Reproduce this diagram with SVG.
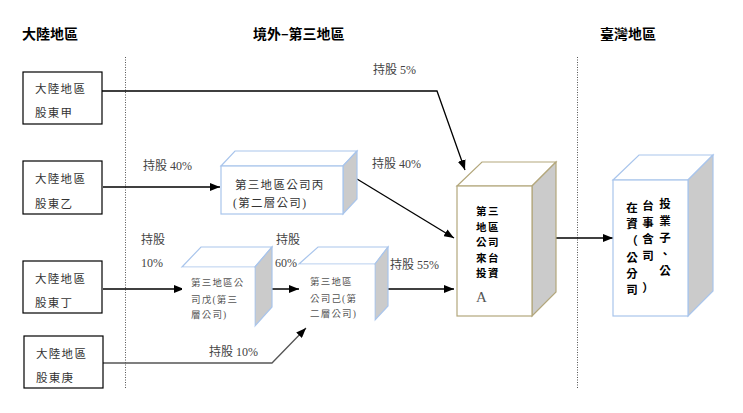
<svg xmlns="http://www.w3.org/2000/svg" width="743" height="413" viewBox="0 0 743 413">
<style>
.hdr{font-family:"Noto Sans CJK TC","Noto Sans CJK SC",sans-serif;font-weight:bold;font-size:14px;fill:#000}
.bx{fill:#fff;stroke:#000;stroke-width:1.2}
.bt{font-family:"Liberation Serif","Noto Sans CJK TC",serif;font-size:11.5px;fill:#333;letter-spacing:1.3px}
.lbl{font-family:"Liberation Serif","Noto Sans CJK TC",serif;font-size:12px;fill:#444}
.sm{font-family:"Liberation Serif","Noto Sans CJK TC",serif;font-size:9.5px;fill:#555;letter-spacing:1.2px}
.blue{stroke:#a9c5ec;stroke-width:1.2}
.khaki{stroke:#b3a77c;stroke-width:1.2}
.side{fill:#cbcbcb}
.ar{fill:none;stroke:#000;stroke-width:1.3}
.bold{font-family:"Noto Sans CJK TC","Noto Sans CJK SC",sans-serif;font-weight:bold;fill:#000}
.sep{stroke:#555;stroke-width:1;stroke-dasharray:1 1.5}
</style>
<defs>
<marker id="ah" markerUnits="userSpaceOnUse" markerWidth="10" markerHeight="8" refX="10" refY="4" orient="auto">
<path d="M0,0 L10,4 L0,8 Z" fill="#000"/>
</marker>
</defs>
<rect width="743" height="413" fill="#fff"/>
<text class="hdr" x="22" y="39">大陸地區</text>
<text class="hdr" x="253" y="39">境外–第三地區</text>
<text class="hdr" x="600" y="39">臺灣地區</text>
<line class="sep" x1="125.5" y1="57" x2="125.5" y2="388"/>
<line class="sep" x1="577.5" y1="57" x2="577.5" y2="388"/>

<g id="conn">
<polyline class="ar" points="102,91 437,91 465,170" marker-end="url(#ah)"/>
<line class="ar" x1="103" y1="187" x2="220" y2="187" marker-end="url(#ah)"/>
<line class="ar" x1="357" y1="179" x2="454" y2="238" marker-end="url(#ah)"/>
<line class="ar" x1="103" y1="289" x2="184" y2="289" marker-end="url(#ah)"/>
<line class="ar" x1="255" y1="289" x2="299" y2="289" marker-end="url(#ah)"/>
<line class="ar" x1="375" y1="289" x2="454" y2="289" marker-end="url(#ah)"/>
<polyline class="ar" points="103,363 272,363 306,328" style="stroke:#555" marker-end="url(#ah)"/>
<line class="ar" x1="532" y1="238" x2="613" y2="238" marker-end="url(#ah)"/>
</g>

<g id="labels">
<text class="lbl" x="373" y="74">持股 5%</text>
<text class="lbl" x="143" y="170">持股 40%</text>
<text class="lbl" x="372" y="168">持股 40%</text>
<text class="lbl" x="141" y="244">持股</text>
<text class="lbl" x="141" y="267">10%</text>
<text class="lbl" x="276" y="244">持股</text>
<text class="lbl" x="275" y="267">60%</text>
<text class="lbl" x="390" y="269">持股 55%</text>
<text class="lbl" x="209" y="356">持股 10%</text>
</g>

<g id="jia">
<rect class="bx" x="23" y="72" width="79" height="52"/>
<text class="bt" x="35" y="93">大陸地區</text>
<text class="bt" x="35" y="117">股東甲</text>
</g>
<g id="yi">
<rect class="bx" x="23" y="161" width="79" height="53"/>
<text class="bt" x="35" y="183">大陸地區</text>
<text class="bt" x="35" y="208">股東乙</text>
</g>
<g id="ding">
<rect class="bx" x="23" y="261" width="79" height="52"/>
<text class="bt" x="35" y="283">大陸地區</text>
<text class="bt" x="35" y="307">股東丁</text>
</g>
<g id="geng">
<rect class="bx" x="24" y="336" width="79" height="52"/>
<text class="bt" x="36" y="358">大陸地區</text>
<text class="bt" x="36" y="382">股東庚</text>
</g>

<g id="bing">
<polygon class="blue" fill="#fff" points="221,166 235,151 357,151 343,166"/>
<polygon class="blue side" points="343,166 357,151 357,199 343,214"/>
<rect class="blue" fill="#fff" x="221" y="166" width="122" height="48"/>
<text class="bt" x="235" y="189">第三地區公司丙</text>
<text class="bt" x="233" y="207">(第二層公司)</text>
</g>

<g id="wu">
<polygon class="blue" fill="#fff" points="182,267 201,247 272,247 255,267"/>
<polygon class="blue side" points="255,267 272,247 272,307 255,326"/>
<rect fill="#fff" x="182" y="267.6" width="72.4" height="59"/>
<text class="sm" x="191" y="286">第三地區公</text>
<text class="sm" x="191" y="303">司戊(第三</text>
<text class="sm" x="191" y="318">層公司)</text>
</g>

<g id="ji">
<polygon class="blue" fill="#fff" points="299,264 318,247 388,247 375,264"/>
<polygon class="blue side" points="375,264 388,247 388,306 375,320"/>
<rect fill="#fff" x="299" y="264.6" width="75.4" height="62"/>
<text class="sm" x="310" y="285">第三地區</text>
<text class="sm" x="310" y="302">公司己(第</text>
<text class="sm" x="310" y="317">二層公司)</text>
</g>

<g id="a">
<polygon class="khaki" fill="#fff" points="457,186 482,162 556,162 532,186"/>
<polygon class="khaki side" points="532,186 556,162 556,292 532,316"/>
<rect class="khaki" fill="#fff" x="457" y="186" width="75" height="130"/>
<text class="bold" style="font-size:10.5px;letter-spacing:1.5px"><tspan x="476" y="215">第三</tspan><tspan x="476" y="230.5">地區</tspan><tspan x="476" y="246">公司</tspan><tspan x="476" y="261.5">來台</tspan><tspan x="476" y="277">投資</tspan></text>
<text x="476" y="302" style="font-family:'Liberation Serif',serif;font-size:15px;fill:#555">A</text>
</g>

<g id="tw">
<polygon class="blue" fill="#fff" points="613,180 639,155 713,155 688,180"/>
<polygon class="blue side" points="688,180 713,155 713,291 688,316"/>
<rect class="blue" fill="#fff" x="613" y="180" width="75" height="136"/>
<text class="bold" style="font-size:11.5px" text-anchor="middle"><tspan x="632" y="212">在</tspan><tspan x="648" y="210">台</tspan><tspan x="665" y="208">投</tspan><tspan x="632" y="228">資</tspan><tspan x="648" y="227">事</tspan><tspan x="665" y="225">業</tspan><tspan x="632" y="245">（</tspan><tspan x="648" y="243">含</tspan><tspan x="665" y="242">子</tspan><tspan x="632" y="262">公</tspan><tspan x="648" y="260">司</tspan><tspan x="665" y="258">、</tspan><tspan x="632" y="278">分</tspan><tspan x="665" y="275">公</tspan><tspan x="632" y="294">司</tspan><tspan x="648" y="292">）</tspan></text>
</g>
</svg>
